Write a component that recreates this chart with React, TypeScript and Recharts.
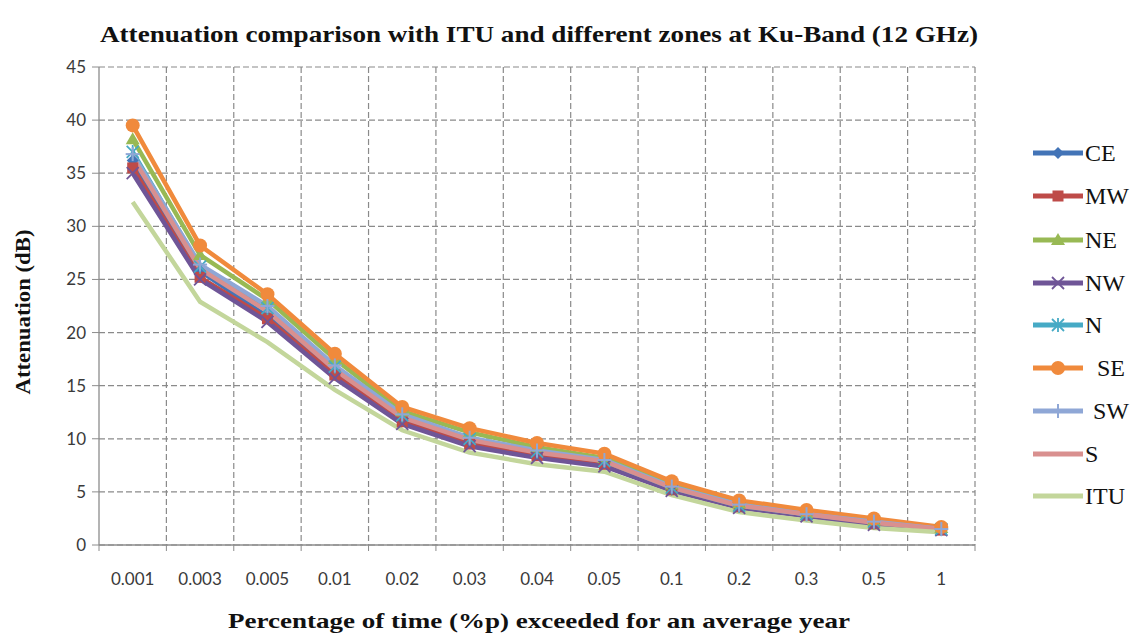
import React from 'react';
import { LineChart, Line, XAxis, YAxis, CartesianGrid, Label } from 'recharts';

// Exceedance percentages (% of an average year)
const CATEGORIES = ['0.001', '0.003', '0.005', '0.01', '0.02', '0.03', '0.04', '0.05', '0.1', '0.2', '0.3', '0.5', '1'];

// Rain attenuation (dB) at 12 GHz for each climatic zone and the ITU model
const CE = [36.2, 25.8, 21.5, 16.2, 11.8, 9.6, 8.5, 7.7, 5.2, 3.6, 2.8, 2.0, 1.4];
const MW = [35.5, 25.2, 21.3, 16.0, 11.6, 9.5, 8.4, 7.6, 5.2, 3.6, 2.8, 2.0, 1.4];
const NE = [38.2, 27.3, 23.1, 17.5, 12.6, 10.6, 9.2, 8.2, 5.7, 3.9, 3.0, 2.3, 1.6];
const NW = [35.0, 25.0, 21.0, 15.7, 11.4, 9.3, 8.2, 7.4, 5.1, 3.5, 2.7, 1.9, 1.4];
const N = [37.0, 26.2, 22.3, 16.8, 12.2, 10.0, 8.8, 7.9, 5.4, 3.7, 2.9, 2.2, 1.5];
const SE = [39.5, 28.2, 23.6, 18.0, 13.0, 11.0, 9.6, 8.6, 6.0, 4.2, 3.3, 2.5, 1.7];
const SW = [36.8, 26.4, 22.5, 16.9, 12.3, 10.1, 8.9, 8.0, 5.5, 3.8, 2.9, 2.2, 1.5];
const S = [36.5, 26.0, 22.0, 16.5, 12.0, 9.9, 8.7, 7.9, 5.4, 3.7, 2.9, 2.1, 1.5];
const ITU = [32.3, 22.9, 19.1, 14.6, 10.8, 8.7, 7.6, 6.9, 4.7, 3.1, 2.3, 1.6, 1.2];

const Y_TICKS = [0, 5, 10, 15, 20, 25, 30, 35, 40, 45];

type Shape = 'diamond' | 'square' | 'triangle' | 'x' | 'star' | 'circle' | 'plus' | 'none';

const SERIES: { key: string; name: string; values: number[]; color: string; shape: Shape; indent: number }[] = [
  { key: 'CE', name: 'CE', values: CE, color: '#4374B7', shape: 'diamond', indent: 0 },
  { key: 'MW', name: 'MW', values: MW, color: '#BE4B48', shape: 'square', indent: 0 },
  { key: 'NE', name: 'NE', values: NE, color: '#98B954', shape: 'triangle', indent: 0 },
  { key: 'NW', name: 'NW', values: NW, color: '#6F5597', shape: 'x', indent: 0 },
  { key: 'N', name: 'N', values: N, color: '#46AAC5', shape: 'star', indent: 0 },
  { key: 'SE', name: 'SE', values: SE, color: '#F08A3C', shape: 'circle', indent: 12 },
  { key: 'SW', name: 'SW', values: SW, color: '#8FA7D6', shape: 'plus', indent: 8 },
  { key: 'S', name: 'S', values: S, color: '#D9908F', shape: 'none', indent: 0 },
  { key: 'ITU', name: 'ITU', values: ITU, color: '#C3D69B', shape: 'none', indent: 0 },
];

const data = CATEGORIES.map((c, i) => {
  const row: Record<string, string | number> = { p: c };
  SERIES.forEach((s) => {
    row[s.key] = s.values[i];
  });
  return row;
});

const SERIF = "'Liberation Serif', 'Times New Roman', Tinos, serif";
const SANS = "Lato, 'Open Sans', sans-serif";

function MarkerShape({ shape, color, cx, cy }: { shape: Shape; color: string; cx: number; cy: number }) {
  switch (shape) {
    case 'diamond':
      return <polygon points={`${cx},${cy - 6} ${cx + 6},${cy} ${cx},${cy + 6} ${cx - 6},${cy}`} fill={color} />;
    case 'square':
      return <rect x={cx - 5.5} y={cy - 5.5} width={11} height={11} fill={color} />;
    case 'triangle':
      return <polygon points={`${cx},${cy - 7} ${cx + 7},${cy + 5} ${cx - 7},${cy + 5}`} fill={color} />;
    case 'x':
      return (
        <g stroke={color} strokeWidth={1.8}>
          <line x1={cx - 6} y1={cy - 6} x2={cx + 6} y2={cy + 6} />
          <line x1={cx - 6} y1={cy + 6} x2={cx + 6} y2={cy - 6} />
        </g>
      );
    case 'star':
      return (
        <g stroke={color} strokeWidth={1.8}>
          <line x1={cx - 6} y1={cy - 6} x2={cx + 6} y2={cy + 6} />
          <line x1={cx - 6} y1={cy + 6} x2={cx + 6} y2={cy - 6} />
          <line x1={cx} y1={cy - 7} x2={cx} y2={cy + 7} />
        </g>
      );
    case 'circle':
      return <circle cx={cx} cy={cy} r={7} fill={color} />;
    case 'plus':
      return (
        <g stroke={color} strokeWidth={2}>
          <line x1={cx - 7} y1={cy} x2={cx + 7} y2={cy} />
          <line x1={cx} y1={cy - 7} x2={cx} y2={cy + 7} />
        </g>
      );
    default:
      return null;
  }
}

const makeDot = (shape: Shape, color: string) => (props: any) => {
  const { cx, cy, index } = props;
  return (
    <g key={`dot-${index}`}>
      {cx != null && cy != null ? <MarkerShape shape={shape} color={color} cx={cx} cy={cy} /> : null}
    </g>
  );
};

const XTick = (props: any) => {
  const { x, y, payload, index, width } = props;
  const band = (width ?? 876) / CATEGORIES.length;
  const left = x - band / 2;
  return (
    <g>
      <line x1={left} y1={y} x2={left} y2={y + 6} stroke="#8c8c8c" strokeWidth={1} />
      {index === CATEGORIES.length - 1 ? (
        <line x1={x + band / 2} y1={y} x2={x + band / 2} y2={y + 6} stroke="#8c8c8c" strokeWidth={1} />
      ) : null}
      <text x={x} y={y + 40} textAnchor="middle" fontFamily={SANS} fontSize={17} fill="#3a3a3a">
        {payload.value}
      </text>
    </g>
  );
};

const LEGEND_Y = [145, 188, 232, 275, 317, 360, 403, 446, 488];

export default function App() {
  return (
    <div style={{ position: 'relative', width: 1134, height: 627 }}>
      <LineChart width={1134} height={627} data={data} margin={{ top: 59, right: 167, bottom: 60, left: 31 }}>
        <CartesianGrid
          stroke="#8a8a8a"
          strokeDasharray="6 3"
          strokeWidth={1.2}
          verticalCoordinatesGenerator={({ offset }: any) =>
            CATEGORIES.map((_, i) => offset.left + ((i + 1) * offset.width) / CATEGORIES.length)
          }
        />
        <XAxis
          dataKey="p"
          type="category"
          scale="band"
          height={30}
          tickSize={0}
          tickMargin={0}
          interval={0}
          tick={<XTick />}
          axisLine={{ stroke: '#8c8c8c', strokeWidth: 1.3 }}
          tickLine={false}
        >
          <Label
            content={({ viewBox }: any) => (
              <text
                x={viewBox.x + viewBox.width / 2 + 2}
                y={viewBox.y + 83}
                textAnchor="middle"
                fontFamily={SERIF}
                fontWeight="bold"
                fontSize={22}
                textLength={622}
                lengthAdjust="spacingAndGlyphs"
                fill="#111"
              >
                Percentage of time (%p) exceeded for an average year
              </text>
            )}
          />
        </XAxis>
        <YAxis
          width={60}
          domain={[0, 45]}
          ticks={Y_TICKS}
          interval={0}
          tickSize={7}
          tickMargin={6}
          axisLine={{ stroke: '#8c8c8c', strokeWidth: 1.3 }}
          tickLine={{ stroke: '#8c8c8c' }}
          tick={{ fontFamily: SANS, fontSize: 17, fill: '#3a3a3a' }}
        >
          <Label
            content={({ viewBox }: any) => {
              const cx = viewBox.x - 17;
              const cy = viewBox.y + viewBox.height / 2 + 6;
              return (
                <text
                  x={cx}
                  y={cy}
                  transform={`rotate(-90, ${cx}, ${cy})`}
                  textAnchor="middle"
                  dominantBaseline="central"
                  fontFamily={SERIF}
                  fontWeight="bold"
                  fontSize={22}
                  textLength={165}
                  lengthAdjust="spacingAndGlyphs"
                  fill="#111"
                >
                  Attenuation (dB)
                </text>
              );
            }}
          />
        </YAxis>
        {SERIES.map((s) => (
          <Line
            key={s.key}
            type="linear"
            dataKey={s.key}
            name={s.name}
            stroke={s.color}
            strokeWidth={4.5}
            dot={makeDot(s.shape, s.color)}
            activeDot={false}
            isAnimationActive={false}
          />
        ))}
      </LineChart>
      <svg
        width={1134}
        height={627}
        style={{ position: 'absolute', left: 0, top: 0, pointerEvents: 'none' }}
      >
        <text
          x={92}
          y={34}
          fontFamily={SERIF}
          fontWeight="bold"
          fontSize={23}
          textLength={878}
          lengthAdjust="spacingAndGlyphs"
          fill="#111"
        >
          Attenuation comparison with ITU and different zones at Ku-Band (12 GHz)
        </text>
        {SERIES.map((s, i) => {
          const y = LEGEND_Y[i];
          return (
            <g key={`leg-${s.key}`}>
              <line x1={1025} y1={y} x2={1075} y2={y} stroke={s.color} strokeWidth={5} />
              <MarkerShape shape={s.shape} color={s.color} cx={1050} cy={y} />
              <text
                x={1077 + s.indent}
                y={y}
                dominantBaseline="central"
                fontFamily={SERIF}
                fontSize={24}
                fill="#111"
              >
                {s.name}
              </text>
            </g>
          );
        })}
      </svg>
    </div>
  );
}
